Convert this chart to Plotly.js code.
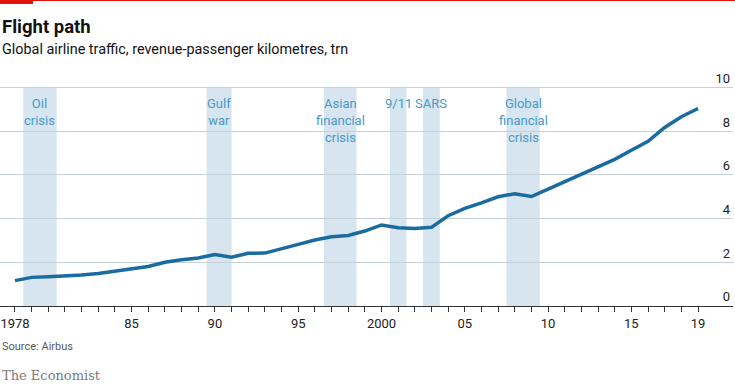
<!DOCTYPE html>
<html>
<head>
<meta charset="utf-8">
<script src="https://cdn.plot.ly/plotly-3.0.1.min.js"></script>
<style>
html,body{margin:0;padding:0;background:#fff;}
#chart{width:735px;height:385px;}
</style>
</head>
<body>
<div id="chart"></div>
<script>
// Data
const years = [1978,1979,1980,1981,1982,1983,1984,1985,1986,1987,1988,1989,1990,1991,1992,1993,1994,1995,1996,1997,1998,1999,2000,2001,2002,2003,2004,2005,2006,2007,2008,2009,2010,2011,2012,2013,2014,2015,2016,2017,2018,2019];
const rpk = [1.16,1.31,1.34,1.37,1.42,1.49,1.60,1.71,1.81,2.00,2.12,2.20,2.36,2.23,2.41,2.42,2.64,2.82,3.02,3.17,3.23,3.43,3.71,3.58,3.55,3.60,4.13,4.47,4.72,5.00,5.14,5.01,5.35,5.68,6.02,6.34,6.71,7.13,7.54,8.17,8.66,9.04];

const eventLabels = ["Oil<br>crisis","Gulf<br>war","Asian<br>financial<br>crisis","9/11","SARS","Global<br>financial<br>crisis"];
const eventStart = [1978.5,1989.5,1996.55,2000.5,2002.5,2007.5];
const eventEnd   = [1980.5,1991.0,1998.5,2001.5,2003.5,2009.5];

const tickYears = years;
const tickLabels = years.map(y => ({1978:"1978",1985:"85",1990:"90",1995:"95",2000:"2000",2005:"05",2010:"10",2015:"15",2019:"19"})[y] || "");
const yTicks = [0,2,4,6,8,10];

const FONT = "Roboto, 'Noto Sans', sans-serif";
const LABEL_BLUE = "#4a9ac6";
const BAND = "#d6e5ef";

const W = 735, H = 385, M = {l:0, r:2, t:70, b:79};
const plotH = H - M.t - M.b, plotW = W - M.l - M.r;
const pyToPaper = Y => (H - M.b - Y) / plotH;
const pxToPaper = X => (X - M.l) / plotW;

const shapes = [];
// white knock-outs of gridline behind multi-line labels
eventLabels.forEach((lab, i) => {
  const lines = lab.split("<br>").length;
  if (lines >= 3) {
    const c = (eventStart[i] + eventEnd[i]) / 2;
    shapes.push({type:"rect", xref:"x", yref:"y", layer:"below",
      x0: c - 1.27, x1: c + 1.27, y0: 7.7, y1: 8.3,
      fillcolor:"#ffffff", line:{width:0}});
  }
});
// shaded bands
eventStart.forEach((s, i) => {
  shapes.push({type:"rect", xref:"x", yref:"y", layer:"below",
    x0: s, x1: eventEnd[i], y0: 0, y1: 10,
    fillcolor: BAND, line:{width:0}});
});
// red header rule and tag
shapes.push({type:"rect", xref:"paper", yref:"paper", x0:0, x1:1.01, y0:pyToPaper(1), y1:pyToPaper(0), fillcolor:"#e3120b", line:{width:0}});
shapes.push({type:"rect", xref:"paper", yref:"paper", x0:0, x1:pxToPaper(33), y0:pyToPaper(4), y1:pyToPaper(0), fillcolor:"#e3120b", line:{width:0}});

const annotations = [];
eventLabels.forEach((lab, i) => {
  annotations.push({
    x: (eventStart[i] + eventEnd[i]) / 2, y: 9.7, xref:"x", yref:"y",
    text: lab, showarrow:false, xanchor:"center", yanchor:"top",
    font:{family:FONT, size:13, color:LABEL_BLUE}, align:"center"
  });
});
annotations.push({xref:"paper", yref:"paper", x:0, y:pyToPaper(40), text:"<b>Flight path</b>",
  showarrow:false, xanchor:"left", yanchor:"bottom", font:{family:FONT, size:18.5, color:"#121212"}});
annotations.push({xref:"paper", yref:"paper", x:0, y:pyToPaper(60), text:"Global airline traffic, revenue-passenger kilometres, trn",
  showarrow:false, xanchor:"left", yanchor:"bottom", font:{family:FONT, size:14.4, color:"#121212"}});
annotations.push({xref:"paper", yref:"paper", x:0, y:0, text:"Source: Airbus",
  showarrow:false, xanchor:"left", yanchor:"top", yshift:-32, font:{family:FONT, size:11, color:"#595959"}});
annotations.push({xref:"paper", yref:"paper", x:0, y:0, text:"The Economist",
  showarrow:false, xanchor:"left", yanchor:"top", yshift:-60, font:{family:"'DejaVu Serif', 'Liberation Serif', serif", size:13, color:"#7a7a7a"}});

const trace = {
  x: years, y: rpk, type:"scatter", mode:"lines",
  line:{color:"#1a6ba0", width:3.5, shape:"linear"},
  hoverinfo:"skip"
};

const layout = {
  width:W, height:H,
  margin:{l:M.l, r:M.r, t:M.t, b:M.b, pad:0},
  paper_bgcolor:"#fff", plot_bgcolor:"#fff",
  showlegend:false,
  xaxis:{
    range:[1977.1, 2021.1], tickmode:"array", tickvals:tickYears, ticktext:tickLabels,
    ticks:"outside", ticklen:5, tickwidth:1, tickcolor:"#333",
    showline:true, linecolor:"#333", linewidth:1, showgrid:false, zeroline:false,
    tickfont:{family:FONT, size:13, color:"#222"}, fixedrange:true
  },
  yaxis:{
    range:[0,10.8], tickmode:"array", tickvals:yTicks, ticktext:yTicks.map(String),
    side:"right", ticklabelposition:"inside top",
    showgrid:true, gridcolor:"#c6d0d7", gridwidth:1, zeroline:false, showline:false,
    ticks:"", tickfont:{family:FONT, size:13, color:"#222"}, fixedrange:true
  },
  shapes: shapes,
  annotations: annotations
};

Plotly.newPlot("chart", [trace], layout, {displayModeBar:false, staticPlot:true});
</script>
</body>
</html>
